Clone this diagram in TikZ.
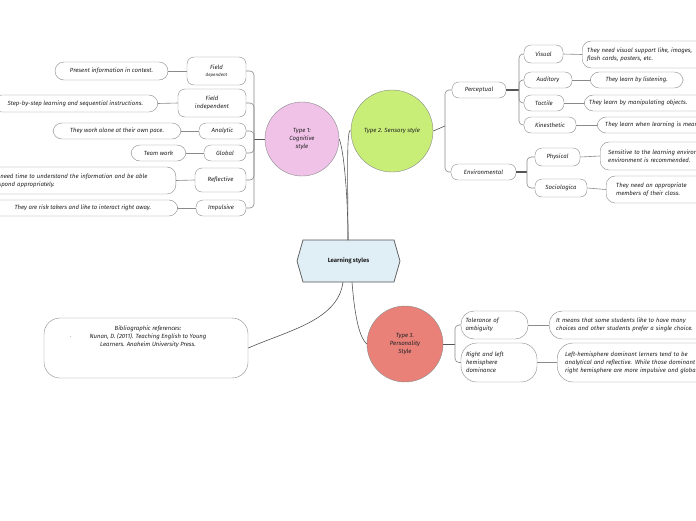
\documentclass[tikz,border=0pt]{standalone}
\usepackage{fontspec}
\setmainfont{Fira Sans}
\usetikzlibrary{positioning}
\definecolor{edgec}{HTML}{8A8A8A}
\definecolor{linec}{HTML}{555555}
\definecolor{txtc}{HTML}{222222}
\definecolor{pinkc}{HTML}{F0C2E8}
\definecolor{greenc}{HTML}{C8EE78}
\definecolor{redc}{HTML}{E98179}
\definecolor{bluec}{HTML}{E0EEF5}
\tikzset{
  every node/.style={font=\fontsize{6}{8}\selectfont\itshape, text=txtc},
  pill/.style={draw=edgec, fill=white, rounded corners=7pt, inner sep=1pt, align=center},
  leaf/.style={draw=edgec, fill=white, rounded corners=9pt, inner sep=1pt, align=left},
  circ/.style={circle, draw=edgec, align=center, inner sep=0pt},
  conn/.style={draw=linec, line width=0.6pt},
  br/.style={draw=edgec, line width=0.6pt, rounded corners=4pt},
}
\begin{document}
\begin{tikzpicture}[x=1pt,y=-1pt]
\useasboundingbox (0,0) rectangle (696,520);
\fill[white] (0,0) rectangle (696,520);

% central node
\draw[draw=linec, fill=bluec, line width=0.7pt] (297,261) -- (303,240) -- (394,240) -- (400,261) -- (394,282) -- (303,282) -- cycle;
\node (c) at (348.5,261) {\upshape\bfseries\fontsize{6}{7}\selectfont\rmfamily Learning styles};
\coordinate (ctop) at (348,240);
\coordinate (cbotl) at (343,282);
\coordinate (cbotr) at (352,282);

% main circles
\node[circ, fill=pinkc, minimum size=74pt] (t1) at (302,139) {Type 1:\\Cognitive\\style};
\node[circ, fill=greenc, minimum size=82pt] (t2) at (392,131) {Type 2. Sensory style};
\node[circ, fill=redc, minimum size=76pt] (t3) at (405,344) {Type 3.\\Personality\\Style};

% bibliography
\node[draw=edgec, fill=white, rounded corners=16pt, minimum width=204pt, minimum height=60pt, inner sep=0pt] (bib) at (146,348) {};
\node[align=center] (bibt) at (148,337) {Bibliographic references:\\\llap{$\cdot$\hspace{18pt}}Nunan, D. (2011). Teaching English to Young\\Learners. Anaheim University Press.};

% central connectors
\draw[conn] (ctop) .. controls (348,200) and (344,150) .. (t1.east);
\draw[conn] (ctop) .. controls (348,190) and (346,125) .. (t2.west);
\draw[conn] (cbotl) .. controls (338,320) and (290,330) .. (bib.east);
\draw[conn] (cbotr) .. controls (355,320) and (360,338) .. (t3.west);

% Type 1 children
\node[pill, minimum width=59pt, minimum height=28pt] (fd) at (216.5,71) {Field\\[-1pt]{\fontsize{4.5}{5}\selectfont dependent}};
\node[pill, minimum width=68pt, minimum height=28pt] (fi) at (212,103) {Field\\independent};
\node[pill, minimum width=47pt, minimum height=16pt] (an) at (222.5,131) {Analytic};
\node[pill, minimum width=42pt, minimum height=16pt] (gl) at (225,153) {Global};
\node[pill, minimum width=51pt, minimum height=24pt] (re) at (220.5,180) {Reflective};
\node[pill, minimum width=50pt, minimum height=16pt] (im) at (221,208) {Impulsive};

\coordinate (b1) at (254,139);
\draw[conn] (t1.west) -- (b1);
\foreach \n in {fd,fi,an,gl,re,im} {\draw[br] (b1) |- (\n.east);}

% Type 1 leaves
\node[leaf, minimum width=113pt, minimum height=18pt, align=center] (l1) at (111.5,71) {Present information in context.};
\node[leaf, minimum width=165pt, minimum height=17pt, align=left, anchor=east] (l2) at (158,103.5) {Step-by-step learning and sequential instructions.};
\node[leaf, minimum width=128pt, minimum height=16pt, align=center] (l3) at (117,131) {They work alone at their own pace.};
\node[leaf, minimum width=55pt, minimum height=16pt, align=center] (l4) at (158.5,153) {Team work};
\node[leaf, minimum width=195pt, minimum height=27pt, text width=185pt, anchor=east] (l5) at (176,180.5) {They need time to understand the information and be able\\to respond appropriately.};
\node[leaf, minimum width=190pt, minimum height=16pt, align=center, anchor=east] (l6) at (178,208) {They are risk takers and like to interact right away.};
\draw[br] (l1.east) -- (fd.west);
\draw[br] (l2.east) -- (fi.west);
\draw[br] (l3.east) -- (an.west);
\draw[br] (l4.east) -- (gl.west);
\draw[br] (l5.east) -- (re.west);
\draw[br] (l6.east) -- (im.west);

% Type 2 children
\node[pill, minimum width=54pt, minimum height=16pt] (pe) at (479,90) {Perceptual};
\node[pill, minimum width=65pt, minimum height=16pt] (en) at (483.5,172) {Environmental};
\coordinate (b2) at (445,126);
\draw[conn] (t2.east) -- (b2);
\draw[br] (b2) |- (pe.west);
\draw[br] (b2) |- (en.west);

\node[pill, minimum width=39pt, minimum height=18pt] (vi) at (543.5,54) {Visual};
\node[pill, minimum width=48pt, minimum height=16pt] (au) at (548,80) {Auditory};
\node[pill, minimum width=40pt, minimum height=16pt] (ta) at (544,103) {Tactile};
\node[pill, minimum width=52pt, minimum height=16pt] (ki) at (550,125) {Kinesthetic};
\coordinate (b3) at (519,90);
\draw[conn, line width=1.2pt] (pe.east) -- (b3);
\foreach \n in {vi,au,ta,ki} {\draw[br] (b3) |- (\n.west);}

\node[pill, minimum width=45pt, minimum height=18pt] (ph) at (557.5,157) {Physical};
\node[pill, minimum width=52pt, minimum height=18pt] (so) at (561,188) {Sociologica};
\coordinate (b4) at (527,172);
\draw[conn, line width=1.2pt] (en.east) -- (b4);
\draw[br] (b4) |- (ph.west);
\draw[br] (b4) |- (so.west);

% Type 2 leaves
\node[leaf, minimum width=180pt, minimum height=27pt, text width=170pt, anchor=west] (lv) at (582,54.5) {They need visual support like, images,\\flash cards, posters, etc.};
\node[leaf, minimum width=93pt, minimum height=16pt, align=center, anchor=west] (la) at (590,80) {They learn by listening.};
\node[leaf, minimum width=180pt, minimum height=16pt, text width=170pt, anchor=west] (lt) at (584,103) {They learn by manipulating objects.};
\node[leaf, minimum width=180pt, minimum height=16pt, text width=164pt, anchor=west] (lk) at (597,125) {They learn when learning is meaningful.};
\node[leaf, minimum width=180pt, minimum height=28pt, text width=164pt, anchor=west] (lp) at (600,156) {Sensitive to the learning environment. A good\\environment is recommended.};
\node[leaf, minimum width=180pt, minimum height=27pt, text width=160pt, anchor=west] (ls) at (606,189.5) {They need an appropriate\\members of their class.};
\draw[br] (vi.east) -- (lv.west);
\draw[br] (au.east) -- (la.west);
\draw[br] (ta.east) -- (lt.west);
\draw[br] (ki.east) -- (lk.west);
\draw[br] (ph.east) -- (lp.west);
\draw[br] (so.east) -- (ls.west);

% Type 3 children
\node[pill, minimum width=67pt, minimum height=28pt, text width=58pt, align=left, rounded corners=13pt] (to) at (494.5,325) {Tolerance of\\ambiguity};
\node[pill, minimum width=76pt, minimum height=39pt, text width=66pt, align=left, rounded corners=16pt] (rh) at (499,362.5) {Right and left\\hemisphere\\dominance};
\coordinate (b5) at (455,344);
\draw[conn] (t3.east) -- (b5);
\draw[br] (b5) |- (to.west);
\draw[br] (b5) |- (rh.west);

\node[leaf, minimum width=200pt, minimum height=28pt, text width=186pt, rounded corners=13pt, anchor=west] (lto) at (549,325) {It means that some students like to have many\\choices and other students prefer a single choice.};
\node[leaf, minimum width=200pt, minimum height=39pt, text width=184pt, rounded corners=16pt, anchor=west] (lrh) at (557,362.5) {Left-hemisphere dominant lerners tend to be\\analytical and reflective. While those dominant\\right hemisphere are more impulsive and global.};
\draw[br] (to.east) -- (lto.west);
\draw[br] (rh.east) -- (lrh.west);
\end{tikzpicture}
\end{document}
